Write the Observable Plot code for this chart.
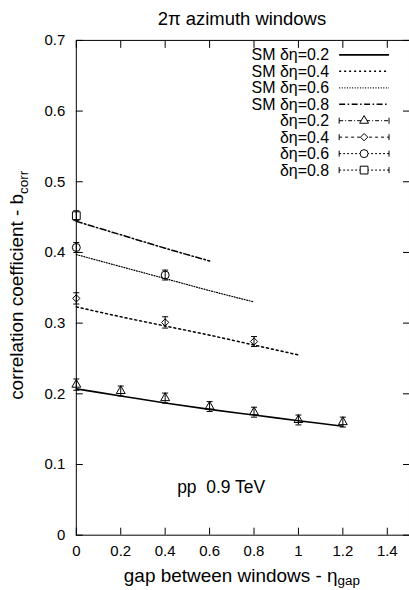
<!DOCTYPE html>
<html><head><meta charset="utf-8">
<script src="https://cdn.jsdelivr.net/npm/d3@7"></script>
<script src="https://cdn.jsdelivr.net/npm/@observablehq/plot@0.6"></script>
<style>
html,body{margin:0;padding:0;background:#fff;overflow:hidden;}
</style></head><body><div id="chart"></div>
<script>
// ---- data ----
const xTicks = [0, 0.2, 0.4, 0.6, 0.8, 1, 1.2, 1.4];
const yTicks = [0, 0.1, 0.2, 0.3, 0.4, 0.5, 0.6, 0.7];

const seriesNames = ["0.2", "0.4", "0.6", "0.8"];

// model (SM) curves
const smX02 = [0, 0.2, 0.4, 0.6, 0.8, 1.0, 1.2];
const smY02 = [0.207, 0.197, 0.187, 0.178, 0.170, 0.162, 0.154];
const smX04 = [0, 0.2, 0.4, 0.6, 0.8, 1.0];
const smY04 = [0.323, 0.309, 0.296, 0.283, 0.269, 0.255];
const smX06 = [0, 0.2, 0.4, 0.6, 0.8];
const smY06 = [0.397, 0.380, 0.363, 0.346, 0.330];
const smX08 = [0, 0.2, 0.4, 0.6];
const smY08 = [0.444, 0.425, 0.406, 0.388];

// data points with errors
const dX02 = [0, 0.2, 0.4, 0.6, 0.8, 1.0, 1.2];
const dY02 = [0.213, 0.204, 0.194, 0.182, 0.174, 0.163, 0.160];
const dE02 = [0.008, 0.007, 0.007, 0.007, 0.007, 0.007, 0.007];
const dX04 = [0, 0.4, 0.8];
const dY04 = [0.335, 0.301, 0.274];
const dE04 = [0.008, 0.008, 0.007];
const dX06 = [0, 0.4];
const dY06 = [0.407, 0.368];
const dE06 = [0.007, 0.007];
const dX08 = [0];
const dY08 = [0.452];
const dE08 = [0.007];

const titleText = "2π azimuth windows";
const annotation = {x: 0.454, y: 0.0593, text: "pp\u00a0 0.9 TeV"};
const legendSM = ["SM δη=0.2", "SM δη=0.4", "SM δη=0.6", "SM δη=0.8"];
const legendData = ["δη=0.2", "δη=0.4", "δη=0.6", "δη=0.8"];

// ---- tables ----
const smXs = [smX02, smX04, smX06, smX08];
const smYs = [smY02, smY04, smY06, smY08];
const sm = seriesNames.map((s, i) => smXs[i].map((x, j) => ({s, x, y: smYs[i][j]})));
const dXs = [dX02, dX04, dX06, dX08];
const dYs = [dY02, dY04, dY06, dY08];
const dEs = [dE02, dE04, dE06, dE08];
const pts = seriesNames.map((s, i) => dXs[i].map((x, j) => ({s, x, y: dYs[i][j], e: dEs[i][j]})));
const allPts = pts.flat();

// ---- styles ----
const lineDash = ["none", "2,3", "1,1.6", "6,2.5,1.5,2.5"];
const lineWidth = [1.6, 1.5, 1.2, 1.5];
const symbols = ["triangle", "diamond2", "circle", "square"];
const symR = [3.3, 3.3, 4, 4.4];
const capSymbol = {draw(ctx, size) { const r = Math.sqrt(size / Math.PI); ctx.moveTo(-r, 0); ctx.lineTo(r, 0); }};

const noText = () => "";
const marks = [
  Plot.frame({stroke: "black", strokeWidth: 1}),
  Plot.axisY(yTicks, {anchor: "left", tickSize: 0, tickPadding: 11, tickFormat: d => String(d), label: null, fontSize: 15}),
  Plot.axisX(xTicks, {anchor: "bottom", tickSize: 0, tickPadding: 10, tickFormat: d => String(d), label: null, fontSize: 15}),
  Plot.axisY(yTicks, {anchor: "left", tickSize: 7, dx: 7, tickFormat: noText, label: null}),
  Plot.axisY(yTicks, {anchor: "right", tickSize: 7, dx: -7, tickFormat: noText, label: null}),
  Plot.axisX(xTicks, {anchor: "bottom", tickSize: 7, dy: -7, tickFormat: noText, label: null}),
  Plot.axisX(xTicks, {anchor: "top", tickSize: 7, dy: 7, tickFormat: noText, label: null}),
];
sm.forEach((d, i) => marks.push(Plot.line(d, {x: "x", y: "y", stroke: "black", strokeWidth: lineWidth[i], strokeDasharray: lineDash[i], curve: "monotone-x"})));
marks.push(Plot.ruleX(allPts, {x: "x", y1: d => d.y - d.e, y2: d => d.y + d.e, stroke: "black", strokeWidth: 1}));
marks.push(Plot.dot(allPts, {x: "x", y: d => d.y + d.e, symbol: capSymbol, r: 3, stroke: "black", strokeWidth: 1}));
marks.push(Plot.dot(allPts, {x: "x", y: d => d.y - d.e, symbol: capSymbol, r: 3, stroke: "black", strokeWidth: 1}));
pts.forEach((d, i) => marks.push(Plot.dot(d, {x: "x", y: "y", symbol: symbols[i], r: symR[i], stroke: "black", fill: "none", strokeWidth: 1})));
marks.push(Plot.text([annotation], {x: "x", y: "y", text: "text", textAnchor: "start", lineAnchor: "bottom", fontSize: 17.5, fill: "black"}));

const chart = Plot.plot({
  width: 410, height: 590,
  marginLeft: 76, marginRight: 0, marginTop: 40, marginBottom: 54,
  x: {domain: [0, 1.5]},
  y: {domain: [0, 0.7]},
  style: {fontFamily: "'Liberation Sans', Arial, Helvetica, sans-serif", fontSize: "15px", color: "black", background: "white"},
  marks
});
document.getElementById("chart").appendChild(chart);

// ---- titles, axis labels, legend ----
const svg = d3.select(chart);
svg.append("text").attr("x", 242.5).attr("y", 25).attr("text-anchor", "middle")
  .style("font-size", "18.5px").attr("fill", "black").text(titleText);

const yl = svg.append("text").attr("transform", "translate(23,286) rotate(-90)")
  .attr("text-anchor", "middle").style("font-size", "19px").attr("fill", "black");
yl.append("tspan").text("correlation coefficient - b");
yl.append("tspan").attr("dy", 5).style("font-size", "13.5px").text("corr");

const xl = svg.append("text").attr("x", 242.5).attr("y", 583)
  .attr("text-anchor", "middle").style("font-size", "19px").attr("fill", "black");
xl.append("tspan").text("gap between windows - η");
xl.append("tspan").attr("dy", 3.5).style("font-size", "13.5px").text("gap");

const lg = svg.append("g").style("font-size", "16px");
const rowY = i => 55 + i * 16.5;
const symMap = {triangle: d3.symbolTriangle, diamond2: d3.symbolDiamond2, circle: d3.symbolCircle, square: d3.symbolSquare};
const legendDash = ["4,2,1,2", "3,3", "2,2", "2,2"];
legendSM.concat(legendData).forEach((t, i) => {
  lg.append("text").attr("x", 330).attr("y", rowY(i)).attr("dy", "0.35em")
    .attr("text-anchor", "end").attr("fill", "black").text(t);
});
legendSM.forEach((t, i) => {
  lg.append("line").attr("x1", 340).attr("x2", 390).attr("y1", rowY(i)).attr("y2", rowY(i))
    .attr("stroke", "black").attr("stroke-width", lineWidth[i])
    .attr("stroke-dasharray", lineDash[i] === "none" ? null : lineDash[i]);
});
legendData.forEach((t, k) => {
  const y = rowY(k + 4);
  lg.append("line").attr("x1", 340).attr("x2", 390).attr("y1", y).attr("y2", y)
    .attr("stroke", "black").attr("stroke-width", 1).attr("stroke-dasharray", legendDash[k]);
  [340, 390].forEach(x => lg.append("line").attr("x1", x).attr("x2", x).attr("y1", y - 3).attr("y2", y + 3)
    .attr("stroke", "black").attr("stroke-width", 1));
  lg.append("path").attr("transform", `translate(365,${y})`)
    .attr("d", d3.symbol(symMap[symbols[k]], Math.PI * symR[k] * symR[k])())
    .attr("fill", "white").attr("stroke", "black").attr("stroke-width", 1);
});
</script></body></html>
